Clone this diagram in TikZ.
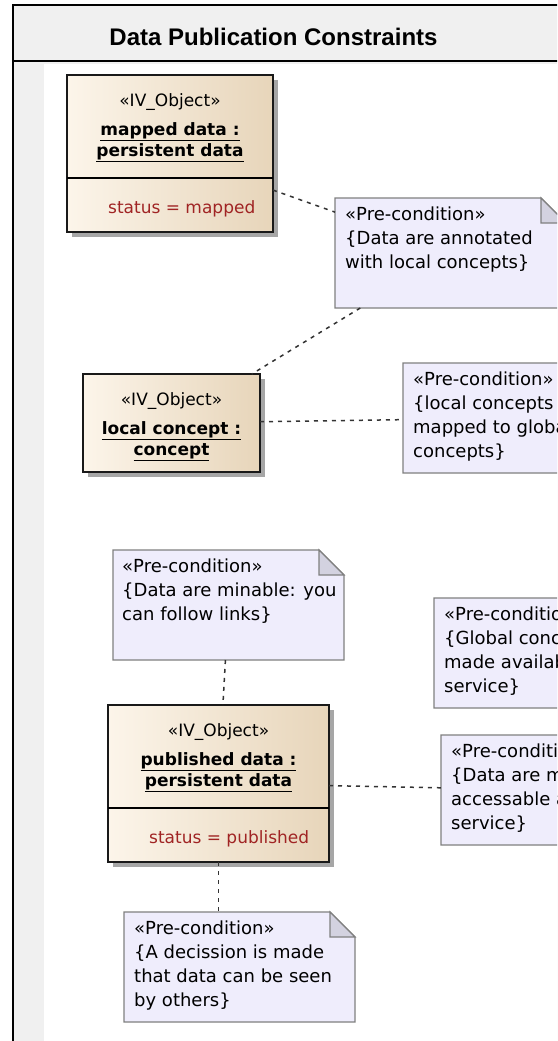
\documentclass[tikz,border=0pt]{standalone}
\usepackage{fontspec}
\setmainfont{DejaVu Sans}
\newfontfamily\headfont{Liberation Sans}
\usetikzlibrary{positioning, shadows}
\definecolor{objleft}{RGB}{252,245,234}
\definecolor{objright}{RGB}{231,213,186}
\definecolor{notebg}{RGB}{239,237,252}
\definecolor{notefold}{RGB}{211,210,224}
\definecolor{noteline}{RGB}{128,128,128}
\definecolor{attrred}{RGB}{160,36,36}
\definecolor{framebg}{RGB}{240,240,240}
\newcommand\notebody[1]{%
  \filldraw[noteedge] (#1.north west) -- ([xshift=-25pt]#1.north east)
    -- ([yshift=-25pt]#1.north east) -- (#1.south east) -- (#1.south west) -- cycle;
  \filldraw[foldedge] ([xshift=-25pt]#1.north east)
    -- ([xshift=-25pt,yshift=-25pt]#1.north east) -- ([yshift=-25pt]#1.north east) -- cycle;}

\begin{document}
\begin{tikzpicture}[x=1pt, y=-1pt,
        obj/.style={draw=black!90, line width=1.3pt, left color=objleft, right color=objright,
          drop shadow={shadow xshift=5pt, shadow yshift=-5pt, fill=black!35, opacity=1},
          anchor=north west, inner sep=0, outer sep=0},
        objtext/.style={align=center, inner sep=0, font=\fontsize{17}{21}\selectfont},
        attr/.style={anchor=base west, inner sep=0, text=attrred, font=\fontsize{17}{22}\selectfont},
        note/.style={anchor=north west, inner sep=0, outer sep=0, minimum width=231pt, minimum height=110pt},
        noteedge/.style={draw=noteline, fill=notebg, line width=1.2pt},
        foldedge/.style={draw=noteline, fill=notefold, line width=1.2pt},
        notetext/.style={align=left, inner sep=0, font=\fontsize{18}{24}\selectfont},
        link/.style={draw=black!80, line width=1.5pt, dash pattern=on 4pt off 5pt},
        frameline/.style={line width=2pt, black}]
    \useasboundingbox (0,0) rectangle (557,1041);
    \clip (0,0) rectangle (557,1041);
    % frame
    \fill[framebg] (13,5) rectangle (580,1060);
    \fill[white] (44,64) rectangle (580,1060);
    \draw[frameline] (13,1060) -- (13,5) -- (580,5);
    \draw[frameline] (13,61) -- (580,61);
    \node(title)[anchor=base, font=\headfont\bfseries\fontsize{24}{28}\selectfont] at (273.5,46) {Data Publication Constraints};

    % objects
    \node(o1)[obj, minimum width=206pt, minimum height=157pt] at (67,75) {};
    \node(o1t)[objtext, below=18pt of o1.north] {«IV\_Object»\\[8pt]\textbf{\underline{mapped data :}}\\\textbf{\underline{persistent data}}};
    \draw[line width=1.3pt] ([yshift=-103pt]o1.north west) -- ([yshift=-103pt]o1.north east);
    \node(o1a)[attr] at ([xshift=41pt, yshift=-138pt]o1.north west) {status = mapped};

    \node(o2)[obj, minimum width=177pt, minimum height=98pt] at (83,374) {};
    \node(o2t)[objtext, below=18pt of o2.north] {«IV\_Object»\\[8pt]\textbf{\underline{local concept :}}\\\textbf{\underline{concept}}};

    \node(o3)[obj, minimum width=221pt, minimum height=157pt] at (108,705) {};
    \node(o3t)[objtext, below=18pt of o3.north] {«IV\_Object»\\[8pt]\textbf{\underline{published data :}}\\\textbf{\underline{persistent data}}};
    \draw[line width=1.3pt] ([yshift=-103pt]o3.north west) -- ([yshift=-103pt]o3.north east);
    \node(o3a)[attr] at ([xshift=41pt, yshift=-138pt]o3.north west) {status = published};

    % notes
    \node(n1)[note] at (335,198) {};
    \notebody{n1}
    \node(n1t)[notetext, below right=9pt and 10pt of n1.north west] {«Pre-condition»\\\{Data are annotated\\with local concepts\}};
    \node(n2)[note] at (403,363) {};
    \notebody{n2}
    \node(n2t)[notetext, below right=9pt and 10pt of n2.north west] {«Pre-condition»\\\{local concepts are\\mapped to global\\concepts\}};
    \node(n3)[note] at (113,550) {};
    \notebody{n3}
    \node(n3t)[notetext, below right=9pt and 9pt of n3.north west] {«Pre-condition»\\\{Data are minable: you\\can follow links\}};
    \node(n4)[note] at (434,598) {};
    \notebody{n4}
    \node(n4t)[notetext, below right=9pt and 10pt of n4.north west] {«Pre-condition»\\\{Global concepts are\\made available as a\\service\}};
    \node(n6)[note] at (441,735) {};
    \notebody{n6}
    \node(n6t)[notetext, below right=9pt and 10pt of n6.north west] {«Pre-condition»\\\{Data are made\\accessable as a\\service\}};
    \node(n5)[note] at (124,912) {};
    \notebody{n5}
    \node(n5t)[notetext, below right=9pt and 10pt of n5.north west] {«Pre-condition»\\\{A decission is made\\that data can be seen\\by others\}};

    % links
    \draw[link] (o1) -- (n1);
    \draw[link] (n1) -- (o2);
    \draw[link] (o2) -- (n2);
    \draw[link] (n3) -- (o3);
    \draw[link] (o3) -- (n6);
    \draw[link] (o3.south) -- (o3.south |- n5.north);
\end{tikzpicture}
\end{document}
